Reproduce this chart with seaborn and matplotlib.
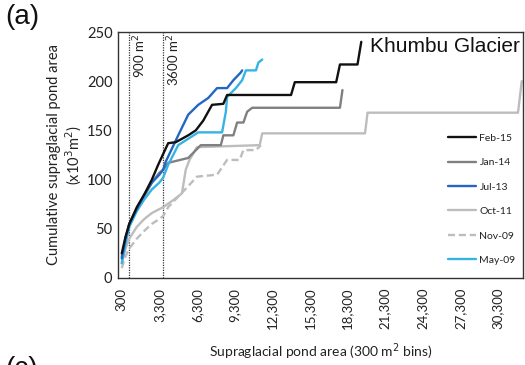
import matplotlib
matplotlib.use("Agg")
import matplotlib.pyplot as plt
import seaborn as sns
import pandas as pd

# ---------------- data ----------------
series_names = ["Feb-15", "Jan-14", "Jul-13", "Oct-11", "Nov-09", "May-09"]

feb15_x = [300, 600, 900, 1500, 2100, 2700, 3200, 4000, 4600, 5600, 6200, 6800, 7500, 8400, 8700,
           13800, 14100, 17400, 17700, 19100, 19400]
feb15_y = [25, 42, 55, 72, 85, 100, 115, 137, 138, 145, 150, 160, 176, 177, 186,
           186, 199, 199, 217, 217, 240]

jan14_x = [300, 600, 900, 1500, 2100, 2700, 3300, 3600, 4000, 5600, 6600, 8200, 8400, 9200, 9500,
           10000, 10300, 10700, 17700, 17900]
jan14_y = [22, 40, 55, 70, 83, 97, 107, 110, 117, 122, 135, 135, 145, 145, 158,
           158, 169, 173, 173, 191]

jul13_x = [300, 600, 900, 1500, 2100, 2700, 3300, 3600, 3800, 4800, 5600, 6400, 7200, 7900, 8700,
           9200, 9800, 9900]
jul13_y = [20, 40, 55, 70, 85, 97, 105, 110, 118, 145, 166, 176, 183, 193, 193,
           201, 209, 211]

oct11_x = [300, 600, 900, 1500, 2100, 2700, 3300, 3600, 4500, 5100, 5400, 5700, 6300, 11300, 11500,
           19700, 19900, 31900, 32200]
oct11_y = [15, 30, 40, 52, 60, 66, 70, 72, 80, 86, 110, 120, 133, 135, 147,
           147, 168, 168, 200]

nov09_x = [300, 600, 900, 1500, 2100, 2700, 3300, 3600, 4000, 5500, 6300, 7900, 8700, 9700, 10000,
           11000, 11400]
nov09_y = [10, 22, 30, 40, 48, 55, 60, 63, 72, 92, 103, 105, 120, 120, 130,
           130, 135]

may09_x = [300, 600, 900, 1500, 2100, 2700, 3300, 3600, 4000, 4800, 6400, 8300, 8600, 8700, 9400,
           9900, 10200, 11000, 11200, 11500]
may09_y = [15, 35, 52, 68, 80, 90, 97, 102, 115, 135, 148, 148, 169, 184, 193,
           201, 211, 211, 219, 222]

xtick_values = [300, 3300, 6300, 9300, 12300, 15300, 18300, 21300, 24300, 27300, 30300]
xtick_labels = ["300", "3,300", "6,300", "9,300", "12,300", "15,300", "18,300",
                "21,300", "24,300", "27,300", "30,300"]
ytick_values = [0, 50, 100, 150, 200, 250]
threshold_values = [900, 3600]
threshold_labels = ["900 m$^2$", "3600 m$^2$"]

# ---------------- styling ----------------
colors = {"Feb-15": "#111111", "Jan-14": "#808080", "Jul-13": "#2366c4",
          "Oct-11": "#bdbdbd", "Nov-09": "#bdbdbd", "May-09": "#35b4e4"}
styles = {"Feb-15": "-", "Jan-14": "-", "Jul-13": "-", "Oct-11": "-", "Nov-09": (0, (3, 1.6)),
          "May-09": "-"}

sns.set_style("white")
plt.rcParams["font.family"] = ["Lato", "DejaVu Sans"]
text_color = "#222222"

fig = plt.figure(figsize=(5.25, 3.65), dpi=100)
ax = fig.add_axes([0.2248, 0.2384, 0.7714, 0.6739])

data = {
    "Feb-15": (feb15_x, feb15_y), "Jan-14": (jan14_x, jan14_y), "Jul-13": (jul13_x, jul13_y),
    "Oct-11": (oct11_x, oct11_y), "Nov-09": (nov09_x, nov09_y), "May-09": (may09_x, may09_y),
}

draw_order = ["Oct-11", "Nov-09", "Jan-14", "May-09", "Jul-13", "Feb-15"]
for name in draw_order:
    xs, ys = data[name]
    df = pd.DataFrame({"x": xs, "y": ys})
    sns.lineplot(data=df, x="x", y="y", ax=ax, color=colors[name], linestyle=styles[name],
                 linewidth=1.7, estimator=None, sort=False, label=name)

h, l = ax.get_legend_handles_labels()
hmap = dict(zip(l, h))

for xv, lab in zip(threshold_values, threshold_labels):
    ax.axvline(xv, color="#333333", linestyle=(0, (1, 1)), linewidth=0.9, zorder=0)
    ax.text(xv + 150, 248, lab, rotation=90, va="top", ha="left", fontsize=9.5, color=text_color)

ax.set_xlim(0, 32300)
ax.set_ylim(0, 250)
ax.set_xticks(xtick_values)
ax.set_xticklabels(xtick_labels, rotation=90)
ax.set_yticks(ytick_values)
ax.tick_params(axis="both", direction="in", length=3, width=0.8,
               colors="#333333", labelcolor=text_color)
ax.tick_params(axis="x", labelsize=9.5, pad=7)
ax.tick_params(axis="y", labelsize=10.5, pad=4)
for s in ax.spines.values():
    s.set_color("#333333")
    s.set_linewidth(1.0)

ax.set_xlabel("Supraglacial pond area (300 m$^2$ bins)", fontsize=10, color=text_color, labelpad=9)
ax.set_ylabel("Cumulative supraglacial pond area\n(x10$^3$m$^2$)", fontsize=10.5,
              color=text_color, labelpad=2, linespacing=1.15)

ax.legend([hmap[n] for n in series_names], series_names, loc="center left",
          bbox_to_anchor=(0.805, 0.32), frameon=False, fontsize=7.5, handlelength=2.7,
          handletextpad=0.3, labelspacing=1.45, borderaxespad=0, labelcolor=text_color)

ax.text(0.993, 0.943, "Khumbu Glacier", transform=ax.transAxes, fontsize=15,
        family=["Liberation Sans", "DejaVu Sans"], va="center", ha="right", color="#111111")

fig.text(0.01, 0.99, "(a)", fontsize=20, va="top", ha="left", color="#111111",
         family=["Liberation Sans", "DejaVu Sans"])
fig.text(0.01, 0.025, "(c)", fontsize=20, va="top", ha="left", color="#111111",
         family=["Liberation Sans", "DejaVu Sans"])

fig.savefig("out.png", dpi=100)
